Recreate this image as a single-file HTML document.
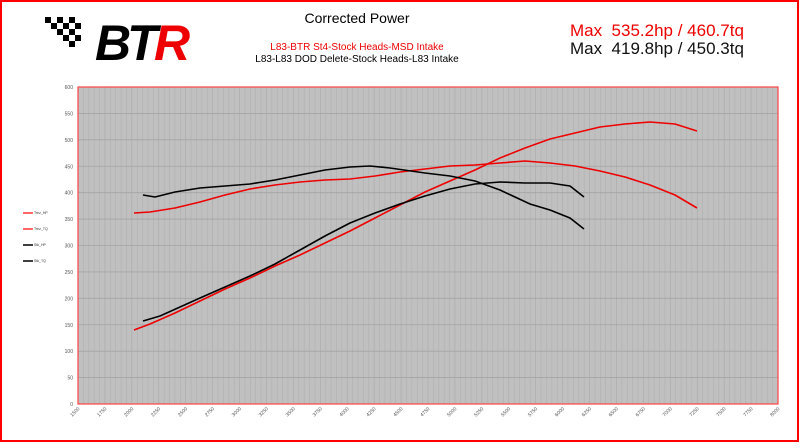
<!DOCTYPE html><html><head><style>
body{margin:0;width:800px;height:443px;overflow:hidden;background:#fff;font-family:"Liberation Sans",sans-serif}
</style></head><body>
<svg width="800" height="443" xmlns="http://www.w3.org/2000/svg" font-family="Liberation Sans, sans-serif">
<rect x="1" y="1" width="797" height="440" fill="#fff" stroke="#f00" stroke-width="2"/>
<g transform="translate(45,13)">
<g fill="#000">
<rect x="0" y="4" width="6" height="6"/><rect x="12" y="4" width="6" height="6"/><rect x="24" y="4" width="6" height="6"/>
<rect x="6" y="10" width="6" height="6"/><rect x="18" y="10" width="6" height="6"/><rect x="30" y="10" width="6" height="6"/>
<rect x="12" y="16" width="6" height="6"/><rect x="24" y="16" width="6" height="6"/>
<rect x="18" y="22" width="6" height="6"/><rect x="30" y="22" width="6" height="6"/>
<rect x="24" y="28" width="6" height="6"/>
</g>
<text x="50" y="47" font-size="50" font-weight="bold" fill="#000" font-style="italic" letter-spacing="-4">BT</text>
<text x="109" y="47" font-size="50" font-weight="bold" fill="#e00" font-style="italic">R</text>
</g>
<text x="357" y="23" font-size="14" text-anchor="middle">Corrected Power</text>
<text x="357" y="50" font-size="10" text-anchor="middle" fill="#e00">L83-BTR St4-Stock Heads-MSD Intake</text>
<text x="357" y="62" font-size="10" text-anchor="middle">L83-L83 DOD Delete-Stock Heads-L83 Intake</text>
<text x="570" y="36" font-size="17" fill="#e00" xml:space="preserve">Max  535.2hp / 460.7tq</text>
<text x="570" y="54" font-size="17" fill="#111" xml:space="preserve">Max  419.8hp / 450.3tq</text>
<rect x="78" y="87" width="700" height="317" fill="#c0c0c0"/>
<g id="g" stroke="#b0b0b0" stroke-width="0.6"></g>
<g id="gy" stroke="#a4a4a4" stroke-width="0.8"></g>
<rect x="78" y="87" width="700" height="317" fill="none" stroke="#f44" stroke-width="1.2"/>
<g id="lab" font-size="5" fill="#555"></g>
<g fill="none" stroke-width="1.6" stroke-linejoin="round">
<polyline stroke="#e00" points="134,330 150,324 175,313 200,301 225,289 250,278 275,266 300,255 325,243 350,231 375,218 400,205 425,192 450,181 475,170 500,158 525,148 550,139 575,133 600,127 625,124 650,122 675,124 697,131"/>
<polyline stroke="#e00" points="134,213 150,212 175,208 200,202 225,195 250,189 275,185 300,182 325,180 350,179 375,176 400,172 425,169 450,166 475,165 500,163 525,161 550,163 575,166 600,171 625,177 650,185 675,195 697,208"/>
<polyline stroke="#000" points="143,195 155,197 175,192 200,188 225,186 250,184 275,180 300,175 325,170 350,167 370,166 390,168 425,173 450,176 475,181 500,190 515,197 530,204 550,210 570,218 584,229"/>
<polyline stroke="#000" points="143,321 160,316 180,307 200,298 225,287 250,276 275,264 300,250 325,236 350,223 375,213 400,204 425,196 450,189 475,184 500,182 525,183 550,183 570,186 584,197"/>
</g>
<g font-size="3.5" fill="#333">
<line x1="23" y1="213" x2="33" y2="213" stroke="#f33" stroke-width="1.5"/><text x="34" y="214">Trez_HP</text>
<line x1="23" y1="229" x2="33" y2="229" stroke="#f33" stroke-width="1.5"/><text x="34" y="230">Trez_TQ</text>
<line x1="23" y1="245" x2="33" y2="245" stroke="#000" stroke-width="1.5"/><text x="34" y="246">Stk_HP</text>
<line x1="23" y1="261" x2="33" y2="261" stroke="#000" stroke-width="1.5"/><text x="34" y="262">Stk_TQ</text>
</g>
</svg>
<script>
var ns="http://www.w3.org/2000/svg",g=document.getElementById("g"),gy=document.getElementById("gy"),lab=document.getElementById("lab");
for(var r=1550;r<8000;r+=50){var x=78+(r-1500)*700/6500;var l=document.createElementNS(ns,"line");l.setAttribute("x1",x);l.setAttribute("x2",x);l.setAttribute("y1",87);l.setAttribute("y2",404);if(r%250==0)l.setAttribute("stroke","#a8a8a8");g.appendChild(l);}
for(var v=50;v<600;v+=50){var y=404-v*317/600;var l=document.createElementNS(ns,"line");l.setAttribute("x1",78);l.setAttribute("x2",778);l.setAttribute("y1",y);l.setAttribute("y2",y);gy.appendChild(l);}
for(var v=0;v<=600;v+=50){var y=404-v*317/600;var t=document.createElementNS(ns,"text");t.setAttribute("x",73);t.setAttribute("y",y+2);t.setAttribute("text-anchor","end");t.textContent=v;lab.appendChild(t);}
for(var r=1500;r<=8000;r+=250){var x=78+(r-1500)*700/6500;var t=document.createElementNS(ns,"text");t.setAttribute("transform","translate("+(x+2)+",409) rotate(-45)");t.setAttribute("text-anchor","end");t.textContent=r;lab.appendChild(t);}
</script>
</body></html>
